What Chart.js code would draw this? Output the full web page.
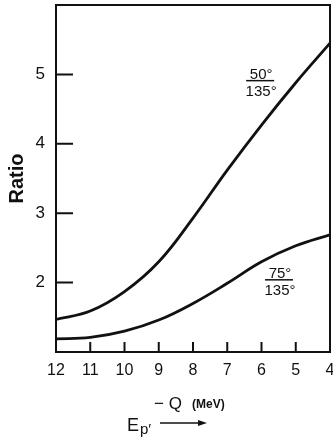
<!DOCTYPE html>
<html>
<head>
<meta charset="utf-8">
<script src="https://cdn.jsdelivr.net/npm/chart.js@4/dist/chart.umd.min.js"></script>
<style>
  html, body { margin: 0; padding: 0; background: #fff; }
  #wrap { width: 333px; height: 438px; position: relative; }
</style>
</head>
<body>
<div id="wrap"><canvas id="grafico"></canvas></div>
<script>
// -Q (MeV) en el eje x (invertido)
const energias = [12, 11, 10, 9, 8, 7, 6, 5, 4]
const ratio50 = [1.47, 1.59, 1.87, 2.30, 2.93, 3.62, 4.27, 4.88, 5.45]
const ratio75 = [1.19, 1.21, 1.30, 1.46, 1.70, 1.99, 2.30, 2.53, 2.69]
const ticksY = [2, 3, 4, 5]
const ticksX = [12, 11, 10, 9, 8, 7, 6, 5, 4]

const FUENTE = "'Liberation Sans', Arial, sans-serif"
const NEGRO = '#111'

const puntos = (valores) => energias.map((e, i) => ({ x: e, y: valores[i] }))

// Dibuja el marco, las marcas internas y los textos de las curvas
const marcoPlugin = {
    id: 'marco',
    afterDraw(chart) {
        const ctx = chart.ctx
        const a = chart.chartArea
        const sx = chart.scales.x
        const sy = chart.scales.y
        ctx.save()
        ctx.strokeStyle = NEGRO
        ctx.fillStyle = NEGRO
        ctx.lineWidth = 2
        ctx.strokeRect(a.left, a.top, a.right - a.left, a.bottom - a.top)

        ctx.beginPath()
        ticksY.forEach(v => {
            const y = sy.getPixelForValue(v)
            ctx.moveTo(a.left, y)
            ctx.lineTo(a.left + 17, y)
        })
        ticksX.slice(1, -1).forEach(v => {
            const x = sx.getPixelForValue(v)
            ctx.moveTo(x, a.bottom)
            ctx.lineTo(x, a.bottom - 10)
        })
        ctx.stroke()

        // etiquetas tipo fraccion
        const fraccion = (num, xv, yv) => {
            const x = sx.getPixelForValue(xv)
            const y = sy.getPixelForValue(yv)
            ctx.font = '15px ' + FUENTE
            ctx.textAlign = 'center'
            ctx.textBaseline = 'alphabetic'
            ctx.fillText(num + '°', x + 1, y - 2)
            ctx.fillText('135°', x + 1, y + 15)
            ctx.lineWidth = 1.5
            ctx.beginPath()
            ctx.moveTo(x - 14, y)
            ctx.lineTo(x + 14, y)
            ctx.stroke()
        }
        fraccion('50', 6.04, 4.91)
        fraccion('75', 5.49, 2.04)

        // titulo del eje x
        ctx.textAlign = 'left'
        ctx.textBaseline = 'middle'
        ctx.font = '17px ' + FUENTE
        ctx.fillText('− Q', 154, 404)
        ctx.font = 'bold 12px ' + FUENTE
        ctx.fillText('(MeV)', 192, 405)
        ctx.font = '18px ' + FUENTE
        ctx.fillText('E', 127, 426)
        ctx.font = '15px ' + FUENTE
        ctx.fillText('p′', 140, 430)
        ctx.lineWidth = 1.5
        ctx.beginPath()
        ctx.moveTo(160, 423)
        ctx.lineTo(200, 423)
        ctx.stroke()
        ctx.beginPath()
        ctx.moveTo(207, 423)
        ctx.lineTo(198, 420)
        ctx.lineTo(198, 426)
        ctx.closePath()
        ctx.fill()
        ctx.restore()
    }
}

const estiloCurva = {
    showLine: true,
    borderColor: NEGRO,
    backgroundColor: NEGRO,
    borderWidth: 2.8,
    pointRadius: 0,
    tension: 0.4
}

const grafico = new Chart(document.getElementById('grafico'), {
    type: 'scatter',
    data: {
        datasets: [
            { label: '50°/135°', data: puntos(ratio50), ...estiloCurva },
            { label: '75°/135°', data: puntos(ratio75), ...estiloCurva }
        ]
    },
    options: {
        responsive: true,
        maintainAspectRatio: false,
        animation: false,
        layout: { padding: { top: 5, right: 3, left: 0, bottom: 0 } },
        plugins: {
            legend: { display: false },
            tooltip: { enabled: false }
        },
        scales: {
            x: {
                type: 'linear',
                min: 4,
                max: 12,
                reverse: true,
                afterBuildTicks: s => { s.ticks = ticksX.map(v => ({ value: v })) },
                afterFit: s => { s.height = 86; s.paddingLeft = 0; s.paddingRight = 0 },
                grid: { display: false, drawTicks: false },
                border: { display: false },
                ticks: { color: NEGRO, padding: 9, font: { family: FUENTE, size: 16 }, maxRotation: 0, autoSkip: false }
            },
            y: {
                type: 'linear',
                min: 1,
                max: 6,
                afterBuildTicks: s => { s.ticks = ticksY.map(v => ({ value: v })) },
                afterFit: s => { s.width = 56; s.paddingTop = 0; s.paddingBottom = 0 },
                grid: { display: false, drawTicks: false },
                border: { display: false },
                ticks: { color: NEGRO, padding: 11, font: { family: FUENTE, size: 17 } },
                title: {
                    display: true,
                    text: 'Ratio',
                    color: NEGRO,
                    font: { family: FUENTE, size: 20, weight: 'bold' },
                    padding: { top: 5, bottom: 0 }
                }
            }
        }
    },
    plugins: [marcoPlugin]
})
</script>
</body>
</html>
